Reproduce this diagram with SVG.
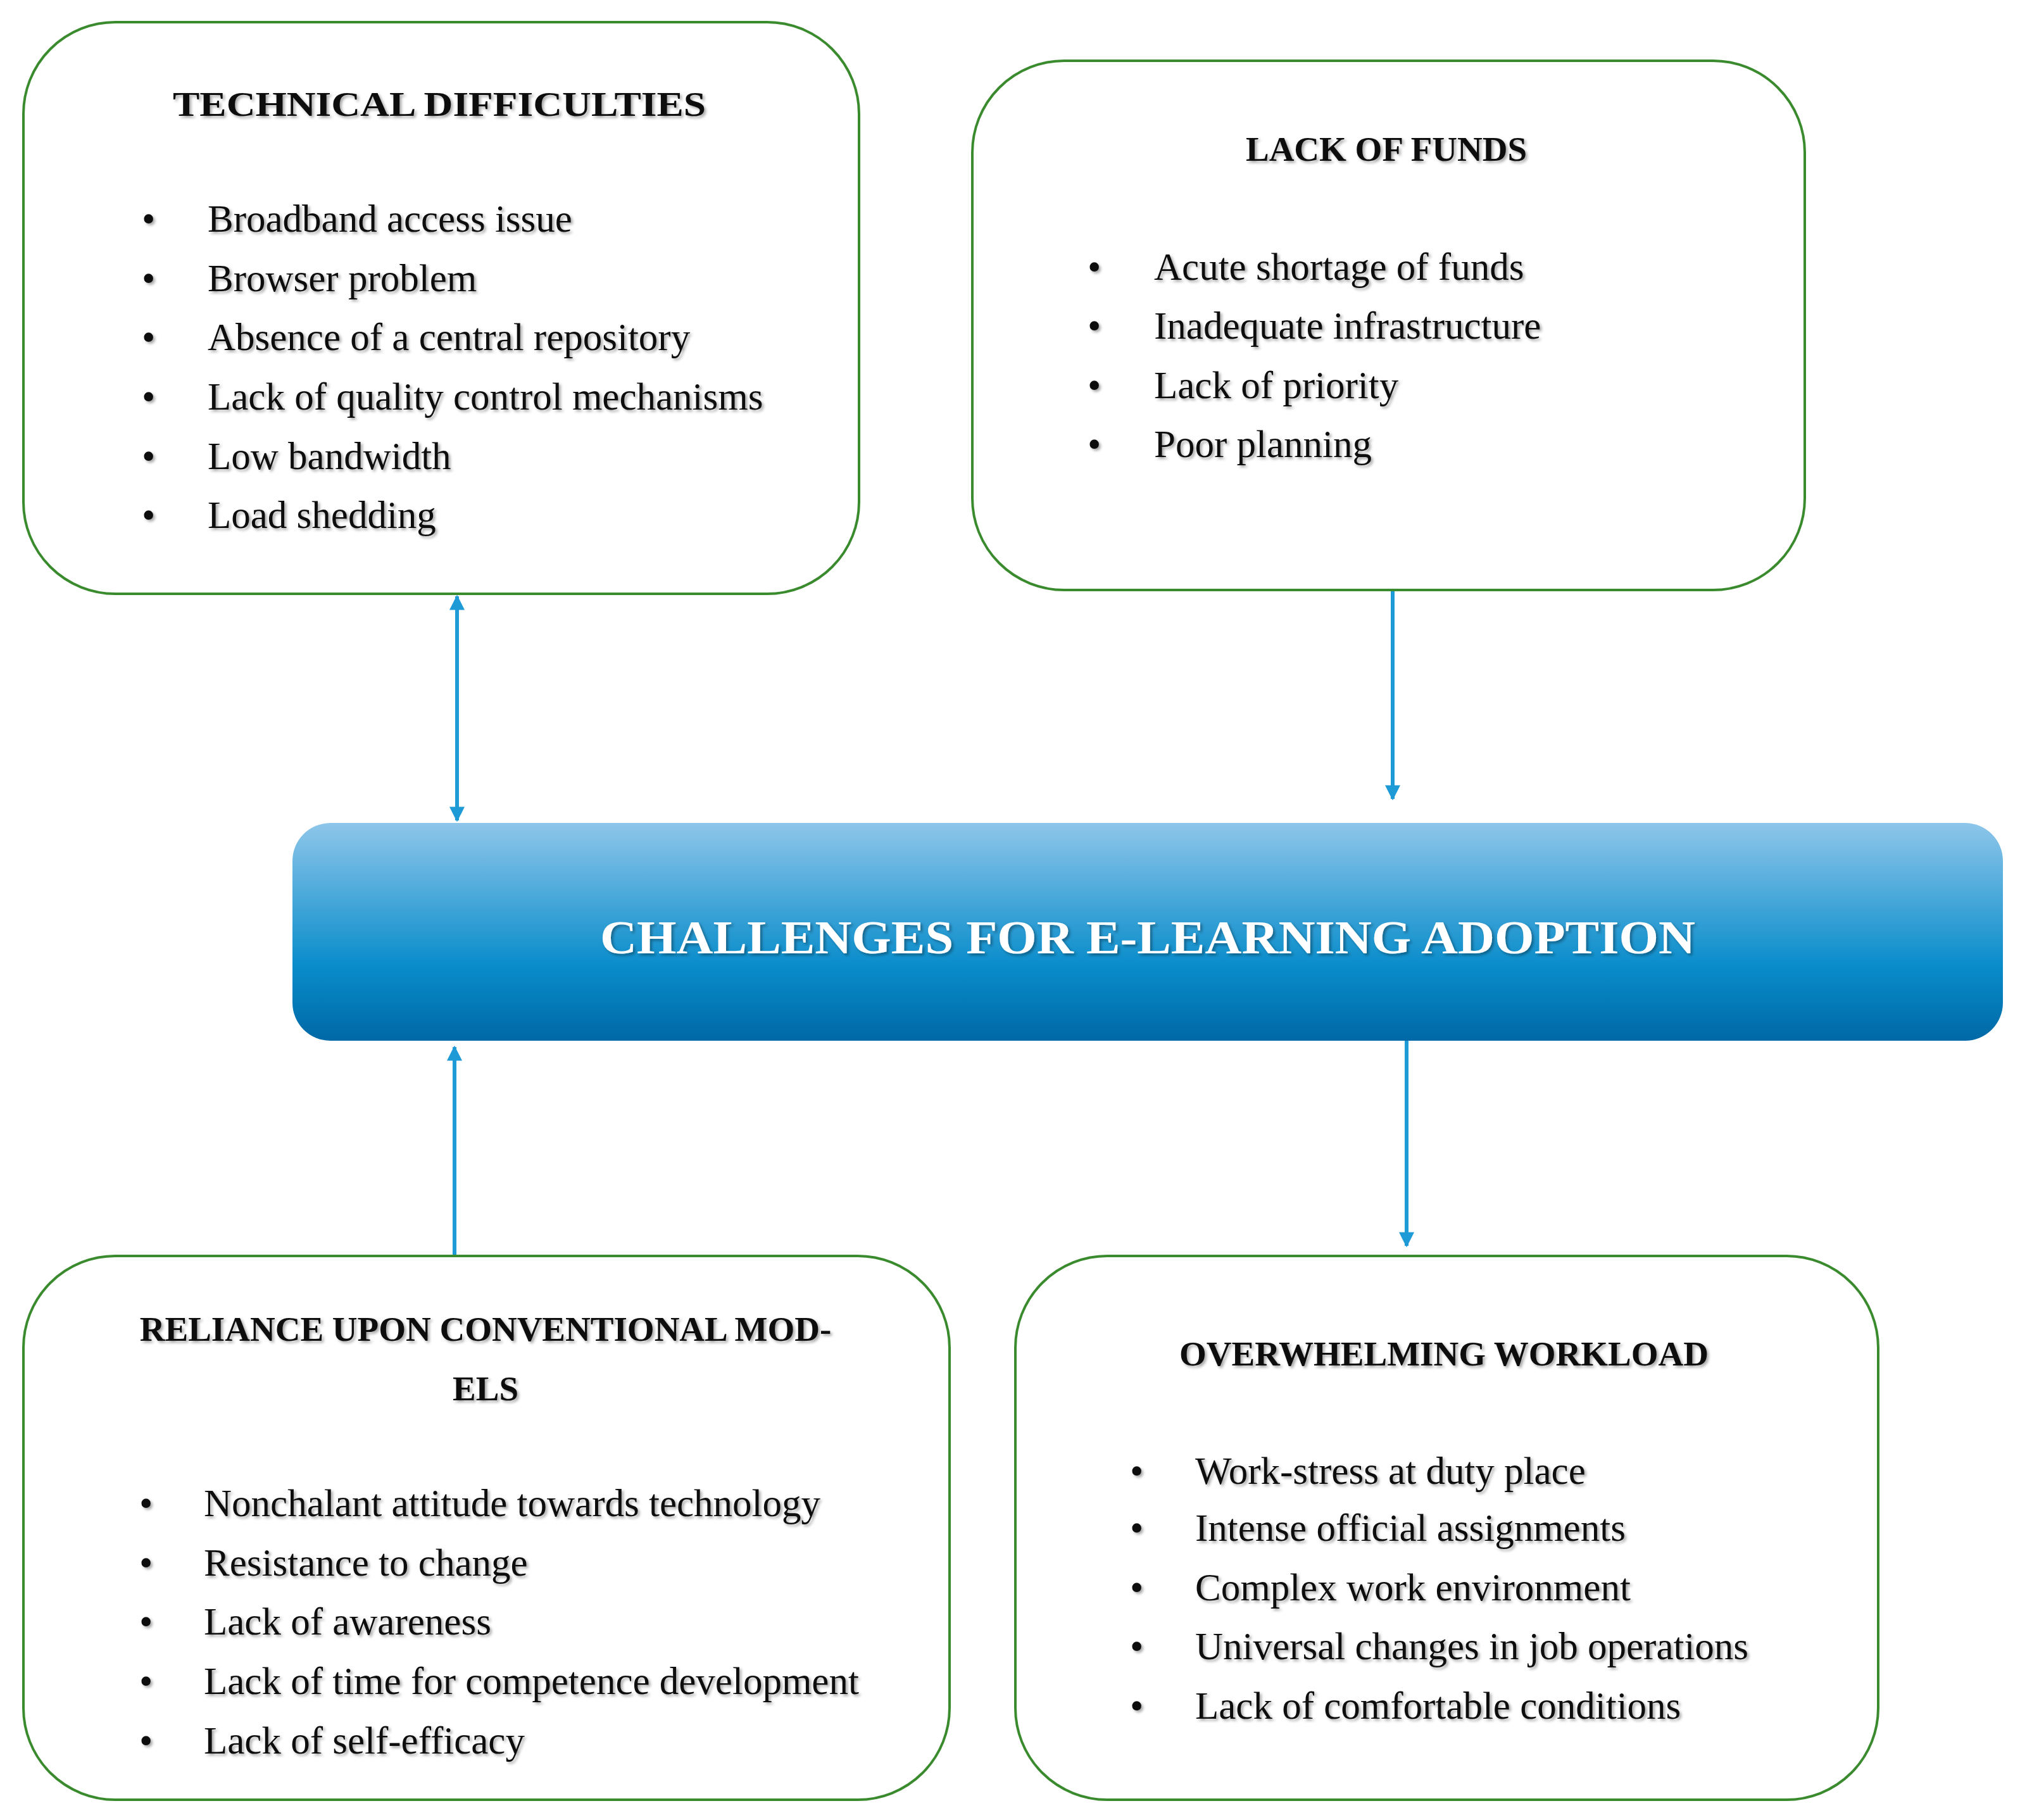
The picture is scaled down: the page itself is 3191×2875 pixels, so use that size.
<svg xmlns="http://www.w3.org/2000/svg" width="3191" height="2875" viewBox="0 0 3191 2875">
<defs>
<linearGradient id="g" x1="0" y1="0" x2="0" y2="1">
<stop offset="0" stop-color="#8ec6ea"/><stop offset="0.65" stop-color="#0a8dcb"/><stop offset="1" stop-color="#0068a6"/>
</linearGradient>
<marker id="a" viewBox="0 0 10 10" refX="9" refY="5" markerWidth="4" markerHeight="4" orient="auto-start-reverse"><path d="M0,0 L10,5 L0,10 z" fill="#1e9ad6"/></marker>
<filter id="sh"><feDropShadow dx="3" dy="3" stdDeviation="2" flood-color="#000" flood-opacity="0.35"/></filter>
</defs>
<style>
.box{fill:#fff;stroke:#3a8a2e;stroke-width:4}
.t{font-family:"Liberation Serif",serif;font-weight:bold;font-size:55px;fill:#111;text-anchor:middle;filter:url(#sh)}
.i{font-family:"Liberation Serif",serif;font-size:61px;fill:#111;filter:url(#sh)}
.c{stroke:#1e9ad6;stroke-width:6;fill:none;marker-start:url(#a);marker-end:url(#a)}
</style>
<rect width="3191" height="2875" fill="#fff"/>
<g id="connectors">
<line class="c" x1="722" y1="942" x2="722" y2="1296"/>
<line class="c" x1="2200" y1="908" x2="2200" y2="1262"/>
<line class="c" x1="718" y1="1654" x2="718" y2="2008"/>
<line class="c" x1="2222" y1="1616" x2="2222" y2="1968"/>
</g>
<g id="technical">
<rect class="box" x="37" y="35" width="1320" height="903" rx="145"/>
<text class="t" x="694" y="183" textLength="842" lengthAdjust="spacingAndGlyphs">TECHNICAL DIFFICULTIES</text>
<g class="i">
<text x="224" y="366">•</text><text x="328" y="366">Broadband access issue</text>
<text x="224" y="460">•</text><text x="328" y="460">Browser problem</text>
<text x="224" y="553">•</text><text x="328" y="553">Absence of a central repository</text>
<text x="224" y="647">•</text><text x="328" y="647">Lack of quality control mechanisms</text>
<text x="224" y="741">•</text><text x="328" y="741">Low bandwidth</text>
<text x="224" y="834">•</text><text x="328" y="834">Load shedding</text>
</g>
</g>
<g id="funds">
<rect class="box" x="1536" y="96" width="1315" height="836" rx="145"/>
<text class="t" x="2190" y="254">LACK OF FUNDS</text>
<g class="i">
<text x="1718" y="442">•</text><text x="1823" y="442">Acute shortage of funds</text>
<text x="1718" y="535">•</text><text x="1823" y="535">Inadequate infrastructure</text>
<text x="1718" y="629">•</text><text x="1823" y="629">Lack of priority</text>
<text x="1718" y="722">•</text><text x="1823" y="722">Poor planning</text>
</g>
</g>
<g id="center">
<rect x="462" y="1300" width="2702" height="344" rx="60" fill="url(#g)"/>
<text x="1813" y="1506" font-family="Liberation Serif,serif" font-weight="bold" font-size="74" fill="#fff" text-anchor="middle" textLength="1730" lengthAdjust="spacingAndGlyphs" filter="url(#sh)">CHALLENGES FOR E-LEARNING ADOPTION</text>
</g>
<g id="reliance">
<rect class="box" x="37" y="1984" width="1463" height="859" rx="145"/>
<text class="t" x="767" y="2118">RELIANCE UPON CONVENTIONAL MOD-</text>
<text class="t" x="767" y="2212">ELS</text>
<g class="i">
<text x="220" y="2395">•</text><text x="322" y="2395">Nonchalant attitude towards technology</text>
<text x="220" y="2489">•</text><text x="322" y="2489">Resistance to change</text>
<text x="220" y="2582">•</text><text x="322" y="2582">Lack of awareness</text>
<text x="220" y="2676">•</text><text x="322" y="2676">Lack of time for competence development</text>
<text x="220" y="2770">•</text><text x="322" y="2770">Lack of self-efficacy</text>
</g>
</g>
<g id="workload">
<rect class="box" x="1604" y="1984" width="1363" height="859" rx="145"/>
<text class="t" x="2281" y="2157">OVERWHELMING WORKLOAD</text>
<g class="i">
<text x="1785" y="2344">•</text><text x="1888" y="2344">Work-stress at duty place</text>
<text x="1785" y="2434">•</text><text x="1888" y="2434">Intense official assignments</text>
<text x="1785" y="2528">•</text><text x="1888" y="2528">Complex work environment</text>
<text x="1785" y="2621">•</text><text x="1888" y="2621">Universal changes in job operations</text>
<text x="1785" y="2715">•</text><text x="1888" y="2715">Lack of comfortable conditions</text>
</g>
</g>
</svg>
